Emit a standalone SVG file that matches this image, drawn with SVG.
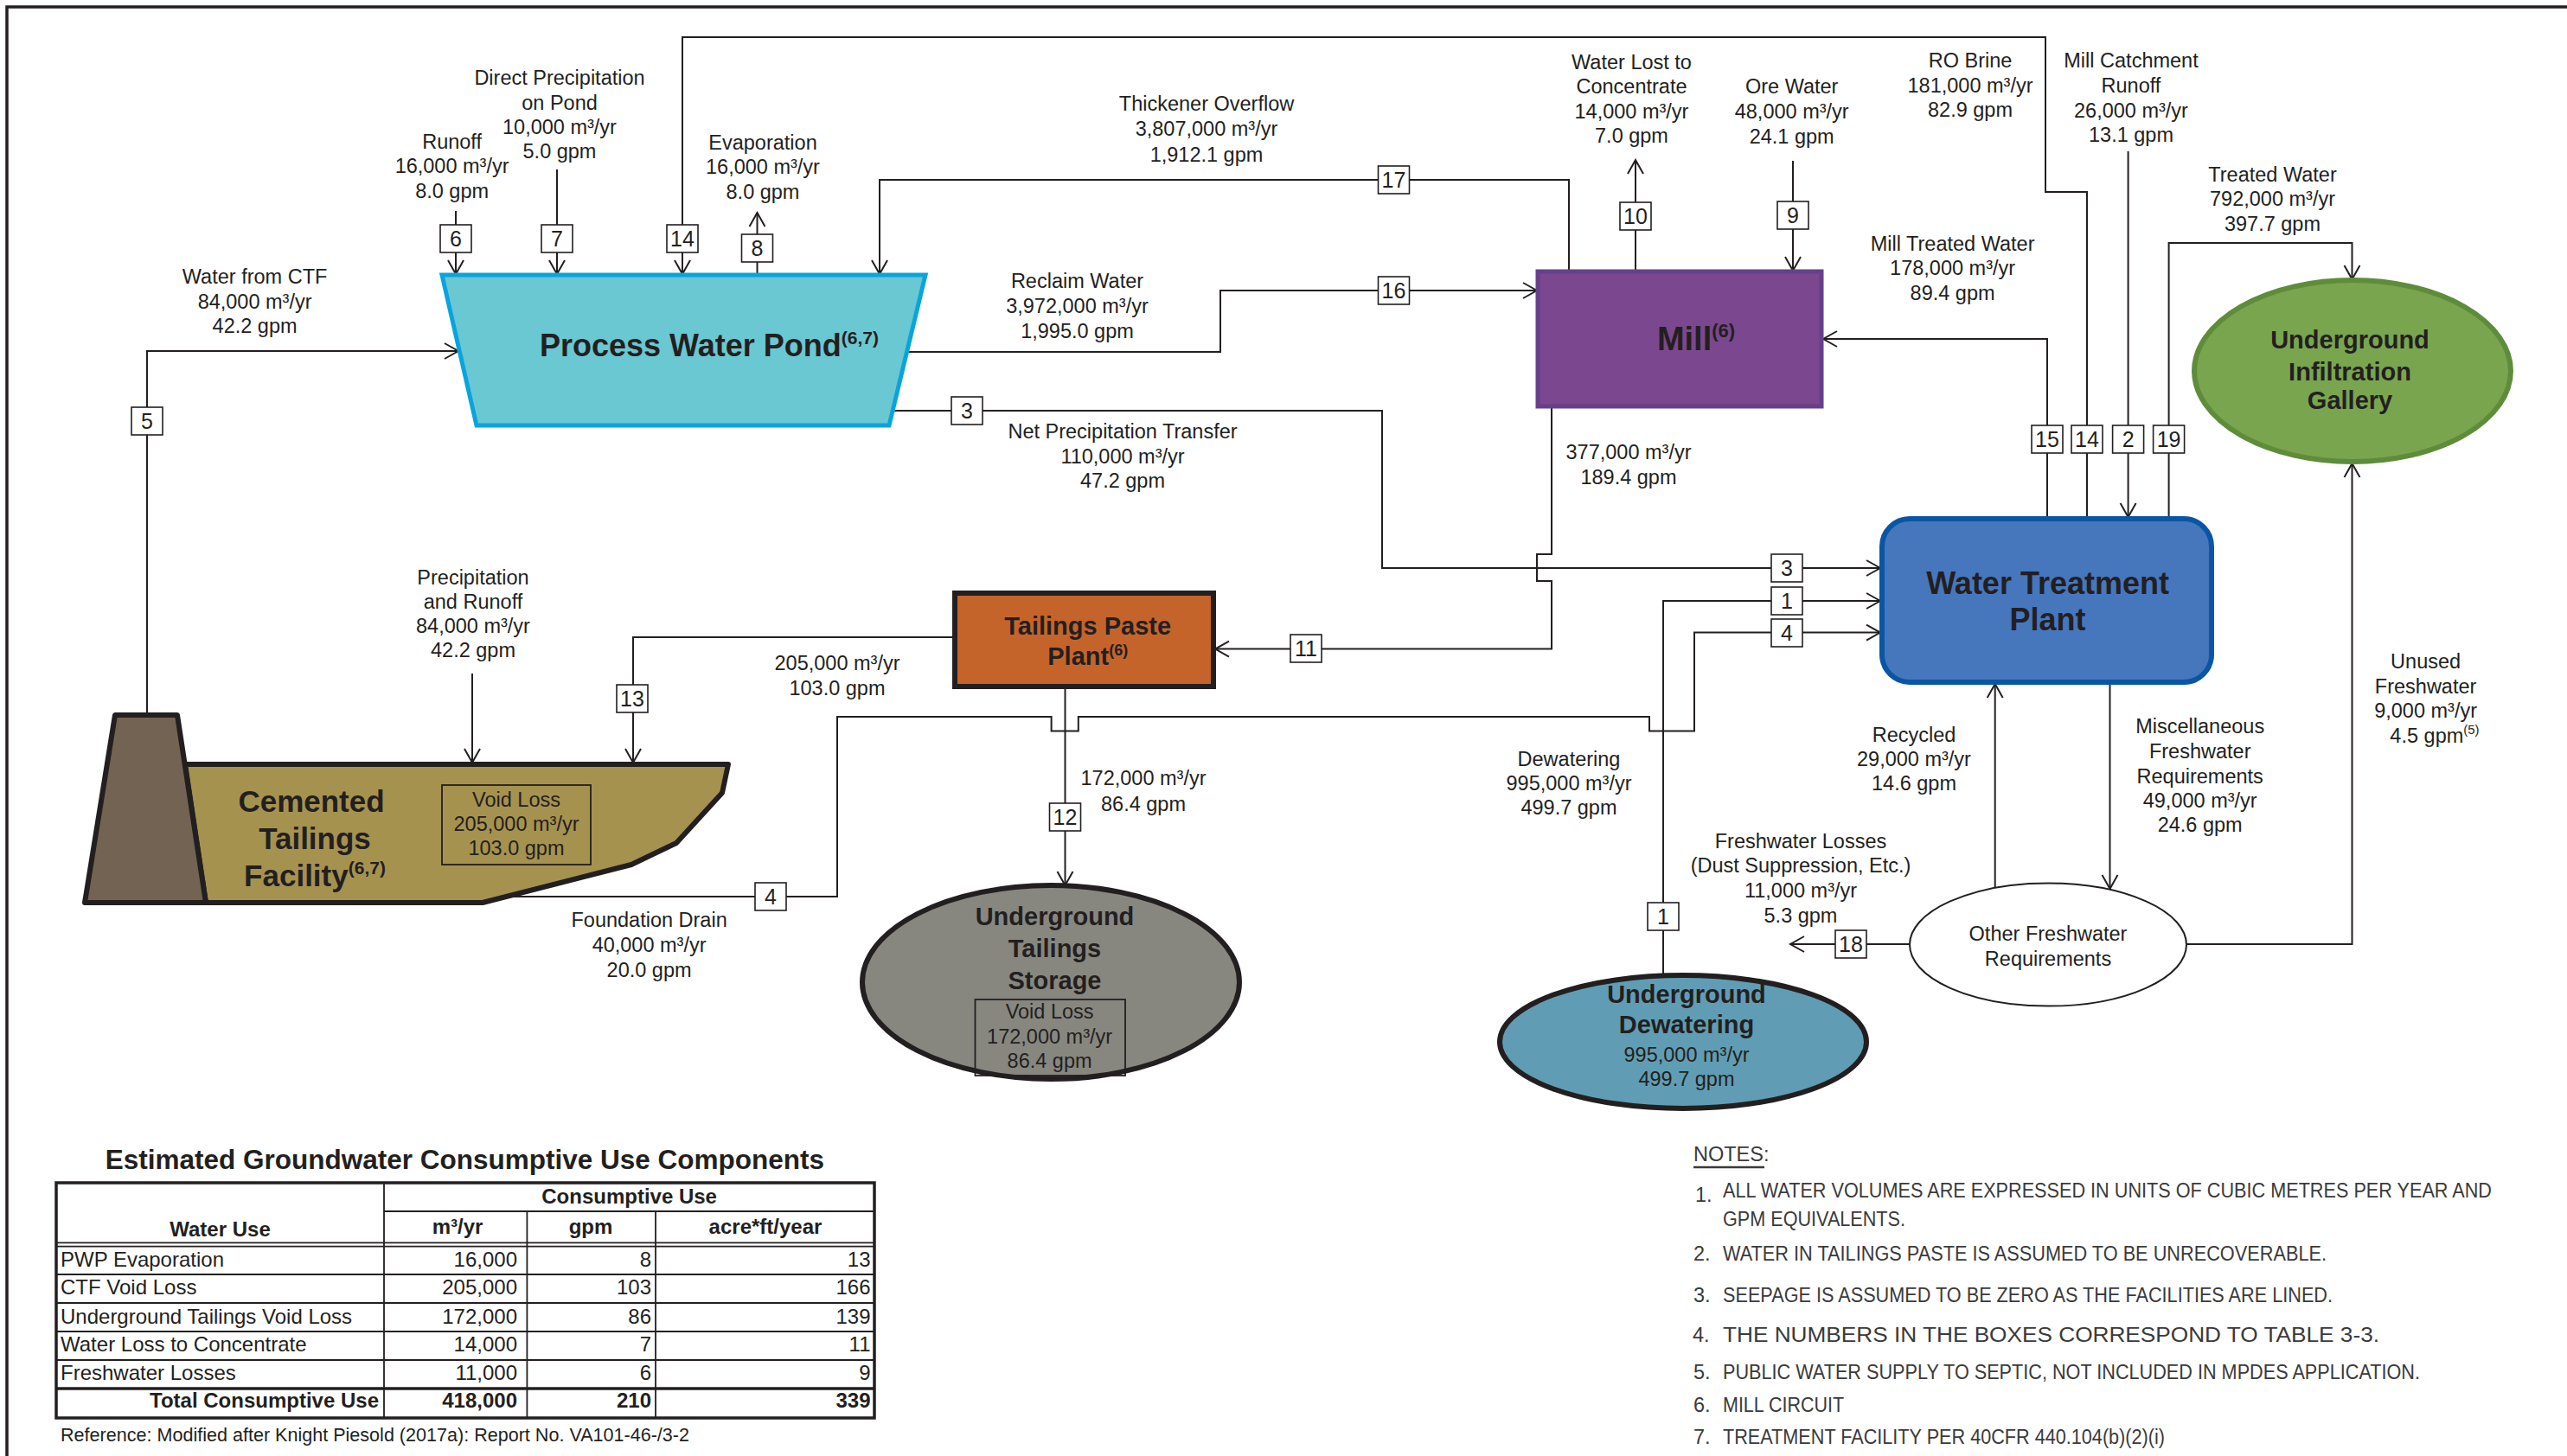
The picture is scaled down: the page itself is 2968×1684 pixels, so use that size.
<svg xmlns="http://www.w3.org/2000/svg" width="2968" height="1684" viewBox="0 0 2968 1684">
<style>
text{font-family:"Liberation Sans",Arial,Helvetica,sans-serif;fill:#231f20}
.l{font-size:23.5px;text-anchor:middle}
.b{font-weight:bold;text-anchor:middle}
.c{fill:none;stroke:#231f20;stroke-width:2}
.a{marker-end:url(#ah)}
.nb{fill:#fff;stroke:#231f20;stroke-width:1.6}
.nt{font-size:25px;text-anchor:middle}
.tb{font-size:24px}
.r{text-anchor:end}
.n{font-size:23.5px;fill:#3a3a3a}
.g{fill:none;stroke:#231f20;stroke-width:1.8}
</style>
<defs>
<marker id="ah" markerUnits="userSpaceOnUse" viewBox="-18 -11 20 22" markerWidth="20" markerHeight="22" refX="0" refY="0" orient="auto">
<path d="M-16,-9 L0,0 L-16,9" fill="none" stroke="#231f20" stroke-width="2"/>
</marker>
</defs>
<rect width="2968" height="1684" fill="#fff"/>
<path d="M8,1684 V8 H2968" fill="none" stroke="#231f20" stroke-width="3.5"/>

<g id="connectors">
<path class="c a" d="M527,244 V317"/>
<path class="c a" d="M644,196 V317"/>
<path class="c a" d="M2413,600 V222 H2365 V43 H789 V317"/>
<path class="c a" d="M875.5,316 V246"/>
<path class="c a" d="M170,827 V406 H530"/>
<path class="c a" d="M1814,314 V208 H1017 V317"/>
<path class="c a" d="M1048,407 H1411 V336 H1777"/>
<path class="c a" d="M1031,475 H1598 V657 H2174"/>
<path class="c a" d="M1794,470 V641 H1777 V672 H1794 V750.6 H1405"/>
<path class="c a" d="M1104,737 H732 V882"/>
<path class="c a" d="M546,779 V882"/>
<path class="c a" d="M588,1037 H968 V829 H1215.6 V845.5 H1246.8 V829 H1907 V845.5 H1959 V731.6 H2174"/>
<path class="c a" d="M1231.5,794 V1024"/>
<path class="c a" d="M1923,1129 V695 H2174"/>
<path class="c a" d="M2367,600 V392 H2108"/>
<path class="c a" d="M2460.6,175 V598"/>
<path class="c a" d="M2507.6,600 V281 H2719.5 V323"/>
<path class="c a" d="M2073,186 V313"/>
<path class="c a" d="M1891,314 V185"/>
<path class="c a" d="M2306.7,1027 V791"/>
<path class="c a" d="M2439.5,789 V1028"/>
<path class="c a" d="M2528,1092 H2719.5 V536"/>
<path class="c a" d="M2208,1092 H2070"/>

<g id="number-boxes">
<rect class="nb" x="509" y="260" width="36" height="32"/><text class="nt" x="527" y="285">6</text>
<rect class="nb" x="626" y="260" width="36" height="32"/><text class="nt" x="644" y="285">7</text>
<rect class="nb" x="771" y="260" width="36" height="32"/><text class="nt" x="789" y="285">14</text>
<rect class="nb" x="857.5" y="271" width="36" height="32"/><text class="nt" x="875.5" y="296">8</text>
<rect class="nb" x="152" y="471" width="36" height="32"/><text class="nt" x="170" y="496">5</text>
<rect class="nb" x="1593.5" y="192" width="36" height="32"/><text class="nt" x="1611.5" y="217">17</text>
<rect class="nb" x="1593.5" y="320" width="36" height="32"/><text class="nt" x="1611.5" y="345">16</text>
<rect class="nb" x="1100" y="459" width="36" height="32"/><text class="nt" x="1118" y="484">3</text>
<rect class="nb" x="1873" y="234" width="36" height="32"/><text class="nt" x="1891" y="259">10</text>
<rect class="nb" x="2055" y="233" width="36" height="32"/><text class="nt" x="2073" y="258">9</text>
<rect class="nb" x="2349" y="492" width="36" height="32"/><text class="nt" x="2367" y="517">15</text>
<rect class="nb" x="2395" y="492" width="36" height="32"/><text class="nt" x="2413" y="517">14</text>
<rect class="nb" x="2442.6" y="492" width="36" height="32"/><text class="nt" x="2460.6" y="517">2</text>
<rect class="nb" x="2489.6" y="492" width="36" height="32"/><text class="nt" x="2507.6" y="517">19</text>
<rect class="nb" x="2048" y="641" width="36" height="32"/><text class="nt" x="2066" y="666">3</text>
<rect class="nb" x="2048" y="679" width="36" height="32"/><text class="nt" x="2066" y="704">1</text>
<rect class="nb" x="2048" y="716" width="36" height="32"/><text class="nt" x="2066" y="741">4</text>
<rect class="nb" x="1492" y="734" width="36" height="32"/><text class="nt" x="1510" y="759">11</text>
<rect class="nb" x="713" y="792" width="36" height="32"/><text class="nt" x="731" y="817">13</text>
<rect class="nb" x="1213.5" y="929" width="36" height="32"/><text class="nt" x="1231.5" y="954">12</text>
<rect class="nb" x="873" y="1021" width="36" height="32"/><text class="nt" x="891" y="1046">4</text>
<rect class="nb" x="1905" y="1044" width="36" height="32"/><text class="nt" x="1923" y="1069">1</text>
<rect class="nb" x="2122" y="1076" width="36" height="32"/><text class="nt" x="2140" y="1101">18</text>
</g>
</g>

<g id="flow-labels">
<text class="l"><tspan x="522.6" y="171.7">Runoff</tspan><tspan x="522.6" y="200">16,000 m³/yr</tspan><tspan x="522.6" y="229">8.0 gpm</tspan></text>
<text class="l"><tspan x="647" y="98">Direct Precipitation</tspan><tspan x="647" y="127">on Pond</tspan><tspan x="647" y="155">10,000 m³/yr</tspan><tspan x="647" y="183">5.0 gpm</tspan></text>
<text class="l"><tspan x="882" y="172.7">Evaporation</tspan><tspan x="882" y="201">16,000 m³/yr</tspan><tspan x="882" y="230">8.0 gpm</tspan></text>
<text class="l"><tspan x="294.6" y="328">Water from CTF</tspan><tspan x="294.6" y="357">84,000 m³/yr</tspan><tspan x="294.6" y="385">42.2 gpm</tspan></text>
<text class="l"><tspan x="1395" y="128">Thickener Overflow</tspan><tspan x="1395" y="157">3,807,000 m³/yr</tspan><tspan x="1395" y="187">1,912.1 gpm</tspan></text>
<text class="l"><tspan x="1245.5" y="333">Reclaim Water</tspan><tspan x="1245.5" y="362">3,972,000 m³/yr</tspan><tspan x="1245.5" y="391">1,995.0 gpm</tspan></text>
<text class="l"><tspan x="1298" y="507">Net Precipitation Transfer</tspan><tspan x="1298" y="535.5">110,000 m³/yr</tspan><tspan x="1298" y="564">47.2 gpm</tspan></text>
<text class="l"><tspan x="1886.5" y="80">Water Lost to</tspan><tspan x="1886.5" y="108">Concentrate</tspan><tspan x="1886.5" y="137">14,000 m³/yr</tspan><tspan x="1886.5" y="165">7.0 gpm</tspan></text>
<text class="l"><tspan x="2071.7" y="108">Ore Water</tspan><tspan x="2071.7" y="137">48,000 m³/yr</tspan><tspan x="2071.7" y="166">24.1 gpm</tspan></text>
<text class="l"><tspan x="2278" y="78">RO Brine</tspan><tspan x="2278" y="107">181,000 m³/yr</tspan><tspan x="2278" y="135">82.9 gpm</tspan></text>
<text class="l"><tspan x="2464" y="78">Mill Catchment</tspan><tspan x="2464" y="107">Runoff</tspan><tspan x="2464" y="136">26,000 m³/yr</tspan><tspan x="2464" y="164">13.1 gpm</tspan></text>
<text class="l"><tspan x="2627.5" y="210">Treated Water</tspan><tspan x="2627.5" y="238">792,000 m³/yr</tspan><tspan x="2627.5" y="267">397.7 gpm</tspan></text>
<text class="l"><tspan x="2257.6" y="290">Mill Treated Water</tspan><tspan x="2257.6" y="318">178,000 m³/yr</tspan><tspan x="2257.6" y="347">89.4 gpm</tspan></text>
<text class="l"><tspan x="1883" y="531">377,000 m³/yr</tspan><tspan x="1883" y="560">189.4 gpm</tspan></text>
<text class="l"><tspan x="547" y="676">Precipitation</tspan><tspan x="547" y="704">and Runoff</tspan><tspan x="547" y="732">84,000 m³/yr</tspan><tspan x="547" y="760">42.2 gpm</tspan></text>
<text class="l"><tspan x="968" y="774.5">205,000 m³/yr</tspan><tspan x="968" y="803.5">103.0 gpm</tspan></text>
<text class="l"><tspan x="750.6" y="1072">Foundation Drain</tspan><tspan x="750.6" y="1101">40,000 m³/yr</tspan><tspan x="750.6" y="1130">20.0 gpm</tspan></text>
<text class="l"><tspan x="1322" y="908">172,000 m³/yr</tspan><tspan x="1322" y="937.6">86.4 gpm</tspan></text>
<text class="l"><tspan x="1814" y="886">Dewatering</tspan><tspan x="1814" y="914">995,000 m³/yr</tspan><tspan x="1814" y="942">499.7 gpm</tspan></text>
<text class="l"><tspan x="2213" y="858">Recycled</tspan><tspan x="2213" y="886">29,000 m³/yr</tspan><tspan x="2213" y="914">14.6 gpm</tspan></text>
<text class="l"><tspan x="2543.7" y="848">Miscellaneous</tspan><tspan x="2543.7" y="877">Freshwater</tspan><tspan x="2543.7" y="906">Requirements</tspan><tspan x="2543.7" y="934">49,000 m³/yr</tspan><tspan x="2543.7" y="962">24.6 gpm</tspan></text>
<text class="l"><tspan x="2804.6" y="773">Unused</tspan><tspan x="2804.6" y="802">Freshwater</tspan><tspan x="2804.6" y="830">9,000 m³/yr</tspan><tspan x="2815" y="859">4.5 gpm<tspan font-size="15" dy="-10">(5)</tspan></tspan></text>
<text class="l"><tspan x="2082" y="981">Freshwater Losses</tspan><tspan x="2082" y="1009">(Dust Suppression, Etc.)</tspan><tspan x="2082" y="1038">11,000 m³/yr</tspan><tspan x="2082" y="1066.6">5.3 gpm</tspan></text>
</g>

<g id="process-water-pond">
<polygon points="511,318 1070,318 1028,492 551,492" fill="#6ac8d2" stroke="#0aa4dd" stroke-width="5"/>
<text class="b" x="820" y="412" font-size="36">Process Water Pond<tspan font-size="21" dy="-14">(6,7)</tspan></text>
</g>

<g id="mill">
<rect x="1778" y="314" width="328" height="156" fill="#7b478e" stroke="#66408a" stroke-width="5"/>
<text class="b" x="1961" y="405" font-size="38">Mill<tspan font-size="22" dy="-15">(6)</tspan></text>
</g>

<g id="water-treatment-plant">
<rect x="2176" y="600" width="381" height="189" rx="32" fill="#4677bd" stroke="#0b56a4" stroke-width="6"/>
<text class="b" font-size="36"><tspan x="2367.6" y="687">Water Treatment</tspan><tspan x="2367.6" y="729">Plant</tspan></text>
</g>

<g id="tailings-paste-plant">
<rect x="1104" y="686" width="299" height="108" fill="#c5642a" stroke="#231f20" stroke-width="6"/>
<text class="b" font-size="29"><tspan x="1257.7" y="734">Tailings Paste</tspan><tspan x="1257.7" y="768.5">Plant<tspan font-size="18" dy="-11">(6)</tspan></tspan></text>
</g>

<g id="cemented-tailings-facility">
<polygon points="214,884 842,884 835,917 782,975 730,1000 558,1044 238,1044" fill="#a6924f" stroke="#231f20" stroke-width="6" stroke-linejoin="round"/>
<polygon points="133,827 205,827 238,1044 98,1044" fill="#736352" stroke="#231f20" stroke-width="6" stroke-linejoin="round"/>
<text class="b" font-size="35"><tspan x="360" y="938.6">Cemented</tspan><tspan x="364" y="981.7">Tailings</tspan><tspan x="364" y="1024.5">Facility<tspan font-size="21" dy="-14">(6,7)</tspan></tspan></text>
<rect class="g" x="511" y="908" width="172" height="92"/>
<text class="l"><tspan x="597" y="933">Void Loss</tspan><tspan x="597" y="961">205,000 m³/yr</tspan><tspan x="597" y="989">103.0 gpm</tspan></text>
</g>

<g id="underground-tailings-storage">
<ellipse cx="1215" cy="1136" rx="218" ry="112" fill="#878780" stroke="#231f20" stroke-width="6"/>
<text class="b" font-size="29"><tspan x="1219.5" y="1070">Underground</tspan><tspan x="1219.5" y="1107">Tailings</tspan><tspan x="1219.5" y="1143.6">Storage</tspan></text>
<rect class="g" x="1127.5" y="1156" width="173.5" height="88"/>
<text class="l"><tspan x="1213.6" y="1177.7">Void Loss</tspan><tspan x="1213.6" y="1207">172,000 m³/yr</tspan><tspan x="1213.6" y="1234.6">86.4 gpm</tspan></text>
</g>

<g id="underground-dewatering">
<ellipse cx="1946" cy="1205" rx="212" ry="77" fill="#609db4" stroke="#231f20" stroke-width="6"/>
<text class="b" font-size="29"><tspan x="1950" y="1160">Underground</tspan><tspan x="1950" y="1195">Dewatering</tspan></text>
<text class="l"><tspan x="1950" y="1227.6">995,000 m³/yr</tspan><tspan x="1950" y="1256">499.7 gpm</tspan></text>
</g>

<g id="underground-infiltration-gallery">
<ellipse cx="2720" cy="429" rx="183" ry="105" fill="#79a54e" stroke="#5f8c3b" stroke-width="6"/>
<text class="b" font-size="29"><tspan x="2717" y="403">Underground</tspan><tspan x="2717" y="440">Infiltration</tspan><tspan x="2717" y="473">Gallery</tspan></text>
</g>

<g id="other-freshwater-requirements">
<ellipse cx="2368" cy="1092.6" rx="160" ry="71" fill="#fff" stroke="#231f20" stroke-width="2"/>
<text class="l"><tspan x="2368" y="1087.7">Other Freshwater</tspan><tspan x="2368" y="1116.5">Requirements</tspan></text>
</g>

<g id="table">
<text class="b" x="537.4" y="1351.7" font-size="31.5">Estimated Groundwater Consumptive Use Components</text>
<rect x="65" y="1368" width="946" height="272" fill="none" stroke="#231f20" stroke-width="3.5"/>
<path class="g" d="M444,1368 V1640 M609.4,1401 V1640 M758,1401 V1640 M444,1401 H1011 M65,1437.3 H1011 M65,1441.7 H1011 M65,1474 H1011 M65,1507 H1011 M65,1540 H1011 M65,1573 H1011"/>
<path d="M65,1606 H1011" stroke="#231f20" stroke-width="3.5"/>
<text class="b tb" x="727.6" y="1391.7">Consumptive Use</text>
<text class="b tb" x="254.5" y="1430">Water Use</text>
<text class="b tb" x="529" y="1426.7">m³/yr</text>
<text class="b tb" x="683" y="1426.7">gpm</text>
<text class="b tb" x="885" y="1426.7">acre*ft/year</text>
<g class="tb">
<text class="tb" x="70" y="1465">PWP Evaporation</text>
<text class="tb r" x="598" y="1465">16,000</text><text class="tb r" x="753" y="1465">8</text><text class="tb r" x="1006.5" y="1465">13</text>
<text class="tb" x="70" y="1497.3">CTF Void Loss</text>
<text class="tb r" x="598" y="1497.3">205,000</text><text class="tb r" x="753" y="1497.3">103</text><text class="tb r" x="1006.5" y="1497.3">166</text>
<text class="tb" x="70" y="1530.7">Underground Tailings Void Loss</text>
<text class="tb r" x="598" y="1530.7">172,000</text><text class="tb r" x="753" y="1530.7">86</text><text class="tb r" x="1006.5" y="1530.7">139</text>
<text class="tb" x="70" y="1563.3">Water Loss to Concentrate</text>
<text class="tb r" x="598" y="1563.3">14,000</text><text class="tb r" x="753" y="1563.3">7</text><text class="tb r" x="1006.5" y="1563.3">11</text>
<text class="tb" x="70" y="1596">Freshwater Losses</text>
<text class="tb r" x="598" y="1596">11,000</text><text class="tb r" x="753" y="1596">6</text><text class="tb r" x="1006.5" y="1596">9</text>
<text class="tb r" x="438" y="1628.3" font-weight="bold">Total Consumptive Use</text>
<text class="tb r" x="598" y="1628.3" font-weight="bold">418,000</text><text class="tb r" x="753" y="1628.3" font-weight="bold">210</text><text class="tb r" x="1006.5" y="1628.3" font-weight="bold">339</text>
</g>
<text x="70" y="1666.7" font-size="22" fill="#3a3a3a" textLength="727" lengthAdjust="spacingAndGlyphs">Reference: Modified after Knight Piesold (2017a): Report No. VA101-46-/3-2</text>
</g>

<g id="notes">
<text class="n" x="1958" y="1343">NOTES:</text>
<path d="M1958,1350 H2040" stroke="#3a3a3a" stroke-width="2.5"/>
<text class="n" x="1960" y="1390">1.</text>
<text class="n" x="1992" y="1385" textLength="889" lengthAdjust="spacingAndGlyphs">ALL WATER VOLUMES ARE EXPRESSED IN UNITS OF CUBIC METRES PER YEAR AND</text>
<text class="n" x="1992" y="1417.7" textLength="211" lengthAdjust="spacingAndGlyphs">GPM EQUIVALENTS.</text>
<text class="n" x="1958" y="1458">2.</text>
<text class="n" x="1992" y="1458" textLength="698" lengthAdjust="spacingAndGlyphs">WATER IN TAILINGS PASTE IS ASSUMED TO BE UNRECOVERABLE.</text>
<text class="n" x="1958" y="1506">3.</text>
<text class="n" x="1992" y="1506" textLength="705" lengthAdjust="spacingAndGlyphs">SEEPAGE IS ASSUMED TO BE ZERO AS THE FACILITIES ARE LINED.</text>
<text class="n" x="1957" y="1551.7" font-size="25" fill="#1f1f1f">4.</text>
<text class="n" x="1992" y="1551.7" font-size="25" fill="#1f1f1f" textLength="759" lengthAdjust="spacingAndGlyphs">THE NUMBERS IN THE BOXES CORRESPOND TO TABLE 3-3.</text>
<text class="n" x="1958" y="1595">5.</text>
<text class="n" x="1992" y="1595" textLength="806" lengthAdjust="spacingAndGlyphs">PUBLIC WATER SUPPLY TO SEPTIC, NOT INCLUDED IN MPDES APPLICATION.</text>
<text class="n" x="1958" y="1633">6.</text>
<text class="n" x="1992" y="1633" textLength="140" lengthAdjust="spacingAndGlyphs">MILL CIRCUIT</text>
<text class="n" x="1958" y="1670">7.</text>
<text class="n" x="1992" y="1670" textLength="511" lengthAdjust="spacingAndGlyphs">TREATMENT FACILITY PER 40CFR 440.104(b)(2)(i)</text>
</g>
</svg>
